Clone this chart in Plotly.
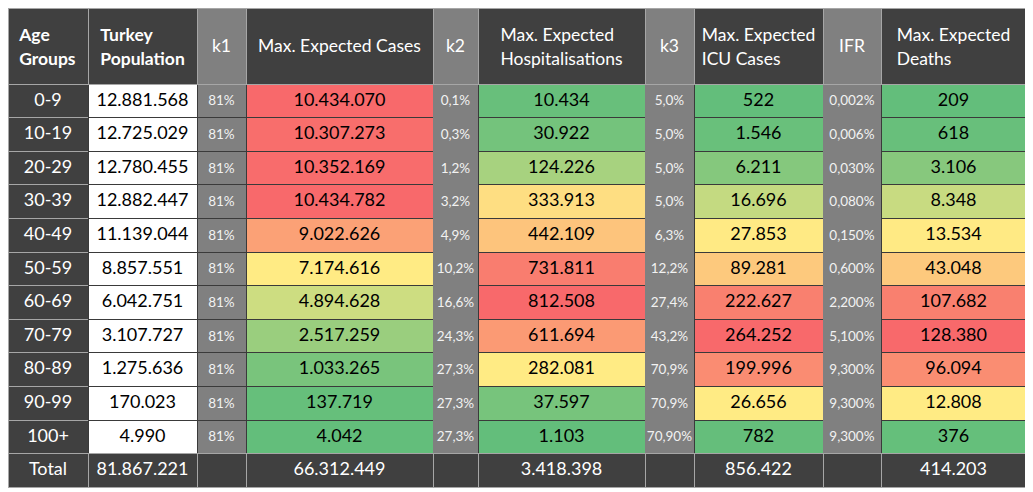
import plotly.graph_objects as go
import numpy as np

age_groups = ["0-9", "10-19", "20-29", "30-39", "40-49", "50-59", "60-69",
              "70-79", "80-89", "90-99", "100+"]
population = [12881568, 12725029, 12780455, 12882447, 11139044, 8857551,
              6042751, 3107727, 1275636, 170023, 4990]
k1 = ["81%"] * 11
cases = [10434070, 10307273, 10352169, 10434782, 9022626, 7174616, 4894628,
         2517259, 1033265, 137719, 4042]
k2 = ["0,1%", "0,3%", "1,2%", "3,2%", "4,9%", "10,2%", "16,6%", "24,3%",
      "27,3%", "27,3%", "27,3%"]
hosp = [10434, 30922, 124226, 333913, 442109, 731811, 812508, 611694,
        282081, 37597, 1103]
k3 = ["5,0%", "5,0%", "5,0%", "5,0%", "6,3%", "12,2%", "27,4%", "43,2%",
      "70,9%", "70,9%", "70,90%"]
icu = [522, 1546, 6211, 16696, 27853, 89281, 222627, 264252, 199996,
       26656, 782]
ifr = ["0,002%", "0,006%", "0,030%", "0,080%", "0,150%", "0,600%",
       "2,200%", "5,100%", "9,300%", "9,300%", "9,300%"]
deaths = [209, 618, 3106, 8348, 13534, 43048, 107682, 128380, 96094,
          12808, 376]
total_label = "Total"
total_population = 81867221
total_cases = 66312449
total_hosp = 3418398
total_icu = 856422
total_deaths = 414203

headers = ["<b>Age</b><br><b>Groups</b>", "<b>Turkey</b><br><b>Population</b>",
           "k1", "Max. Expected Cases", "k2",
           "Max. Expected<br>Hospitalisations", "k3",
           "Max. Expected<br>ICU Cases", "IFR", "Max. Expected<br>Deaths"]

FONT = "Lato"
DARK = "#404040"
GRAY = "#808080"
LIGHT_LINE = "#a6a6a6"
DARK_LINE = "#3a3a3a"
GREEN = (99, 190, 123)
YELLOW = (255, 235, 132)
RED = (248, 105, 107)
HEADER_SIZE = 17.5
BODY_SIZE = 18
SMALL_SIZE = 13.5
NB = "\u00a0"


def lerp(c1, c2, t):
    return "rgb(%d,%d,%d)" % tuple(round(a + (b - a) * t) for a, b in zip(c1, c2))


def scale_colors(vals):
    vals = np.asarray(vals, dtype=float)
    lo, mid, hi = vals.min(), np.percentile(vals, 50), vals.max()
    out = []
    for v in vals:
        if v <= mid:
            out.append(lerp(GREEN, YELLOW, (v - lo) / (mid - lo)))
        else:
            out.append(lerp(YELLOW, RED, (v - mid) / (hi - mid)))
    return out


def spaced(lines, size):
    # a tiny invisible first line pushes the text block down inside the cell
    first = f"<span style='font-size:1px'>{NB}</span>"
    body = "<br>".join(f"<span style='font-size:{size}px'>{ln}</span>" for ln in lines)
    return first + "<br>" + body


def dotted(v):
    # Turkish thousands separator; values below 1000 stay numeric
    return v if v < 1000 else f"{v:,}".replace(",", ".")


n = len(age_groups)

col_values = [
    age_groups + [total_label],
    [dotted(v) for v in population + [total_population]],
    [spaced([s], SMALL_SIZE) for s in k1] + [""],
    [dotted(v) for v in cases + [total_cases]],
    [spaced([s], SMALL_SIZE) for s in k2] + [""],
    [dotted(v) for v in hosp + [total_hosp]],
    [spaced([s], SMALL_SIZE) for s in k3] + [""],
    [dotted(v) for v in icu + [total_icu]],
    [spaced([s], SMALL_SIZE) for s in ifr] + [""],
    [dotted(v) for v in deaths + [total_deaths]],
]

fills = [
    [DARK] * (n + 1),
    ["white"] * n + [DARK],
    [GRAY] * n + [DARK],
    scale_colors(cases) + [DARK],
    [GRAY] * n + [DARK],
    scale_colors(hosp) + [DARK],
    [GRAY] * n + [DARK],
    scale_colors(icu) + [DARK],
    [GRAY] * n + [DARK],
    scale_colors(deaths) + [DARK],
]

font_colors = [
    ["white"] * (n + 1),
    ["black"] * n + ["white"],
    ["#f2f2f2"] * (n + 1),
    ["black"] * n + ["white"],
    ["#f2f2f2"] * (n + 1),
    ["black"] * n + ["white"],
    ["#f2f2f2"] * (n + 1),
    ["black"] * n + ["white"],
    ["#f2f2f2"] * (n + 1),
    ["black"] * n + ["white"],
]

line_colors = [
    [LIGHT_LINE] * (n + 1),
    [DARK_LINE] * n + [LIGHT_LINE],
    [DARK_LINE] * n + [LIGHT_LINE],
    [DARK_LINE] * n + [LIGHT_LINE],
    [GRAY] * n + [LIGHT_LINE],
    [DARK_LINE] * n + [LIGHT_LINE],
    [GRAY] * n + [LIGHT_LINE],
    [DARK_LINE] * n + [LIGHT_LINE],
    [GRAY] * n + [LIGHT_LINE],
    [DARK_LINE] * n + [LIGHT_LINE],
]

is_small = [False, False, True, False, True, False, True, False, True, False]
cell_sizes = [9.6 if s else BODY_SIZE for s in is_small]
col_widths = [80, 109, 49, 187, 45, 167, 49, 129, 58, 145]

header_text = []
header_sizes = []
for h in headers:
    parts = h.split("<br>")
    header_text.append(spaced(parts, HEADER_SIZE))
    header_sizes.append(18.5 if len(parts) == 2 else 27.2)

header_fill = [DARK, DARK, GRAY, DARK, GRAY, DARK, GRAY, DARK, GRAY, DARK]

fig = go.Figure(go.Table(
    columnwidth=col_widths,
    header=dict(
        values=header_text,
        fill_color=header_fill,
        line=dict(color=LIGHT_LINE, width=1),
        font=dict(family=FONT, size=header_sizes, color="white"),
        align="center",
        height=76,
    ),
    cells=dict(
        values=col_values,
        fill_color=fills,
        line=dict(color=line_colors, width=1),
        font=dict(family=FONT, size=cell_sizes, color=font_colors),
        align="center",
        height=33.6,
    ),
))

fig.update_layout(
    width=1018, height=480,
    margin=dict(l=0, r=0, t=0, b=0),
    paper_bgcolor="white",
)

fig.write_html("out.html")
